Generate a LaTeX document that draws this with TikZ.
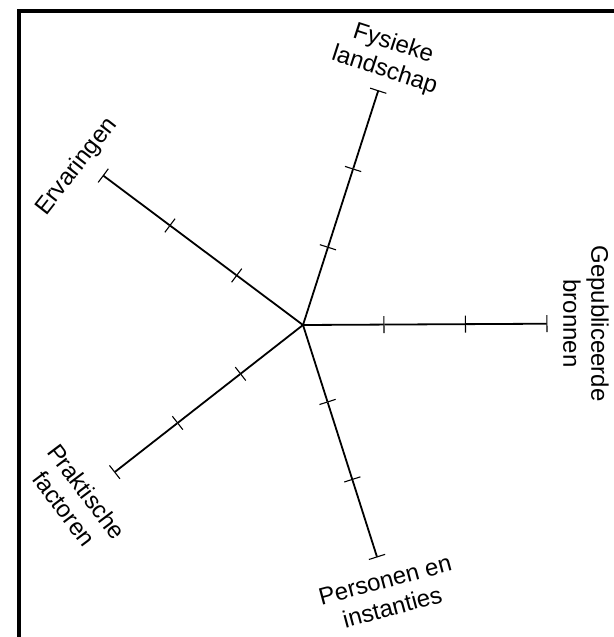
\documentclass[tikz,border=0pt]{standalone}
\usepackage{fontspec}
\setmainfont{Liberation Sans}
\usetikzlibrary{positioning, calc, arrows.meta}

\begin{document}
\begin{tikzpicture}[x=1pt, y=1pt,
    axis/.style={line width=1.8pt, -{Bar[width=17pt, line width=1.1pt]}},
    lbl/.style={align=center, inner sep=0pt, font=\fontsize{24}{28}\selectfont}]
  \useasboundingbox (-303,-312) rectangle (310,325);
  \draw[line width=3.3pt] (-284,-330) -- (-284,314) -- (330,314);

  \coordinate (c) at (0,0);
  \coordinate (fys)  at (72.2:246.6);
  \coordinate (pub)  at (0.3:244.5);
  \coordinate (per)  at (-72.3:244);
  \coordinate (prak) at (-142:239.5);
  \coordinate (erv)  at (143.2:250);

  % ticks at 1/3 and 2/3 of every axis
  \foreach \a in {fys,pub,per,prak,erv}{
    \coordinate (\a1) at ($(c)!1/3!(\a)$);
    \coordinate (\a2) at ($(c)!2/3!(\a)$);
    \path[axis] (c) edge (\a1) (\a1) edge (\a2) (\a2) edge (\a);
  }

  \node[lbl, rotate=-18] (lfys)  at (72.2:281)   {Fysieke\\landschap};
  \node[lbl, rotate=-90] (lpub)  at (0.3:283)    {Gepubliceerde\\bronnen};
  \node[lbl, rotate=15]  (lper)  at (-72.3:282)  {Personen en\\instanties};
  \node[lbl, rotate=-53] (lprak) at (-142.4:287) {Praktische\\factoren};
  \node[lbl, rotate=52]  (lerv)  at (145:276)    {Ervaringen};
\end{tikzpicture}
\end{document}
